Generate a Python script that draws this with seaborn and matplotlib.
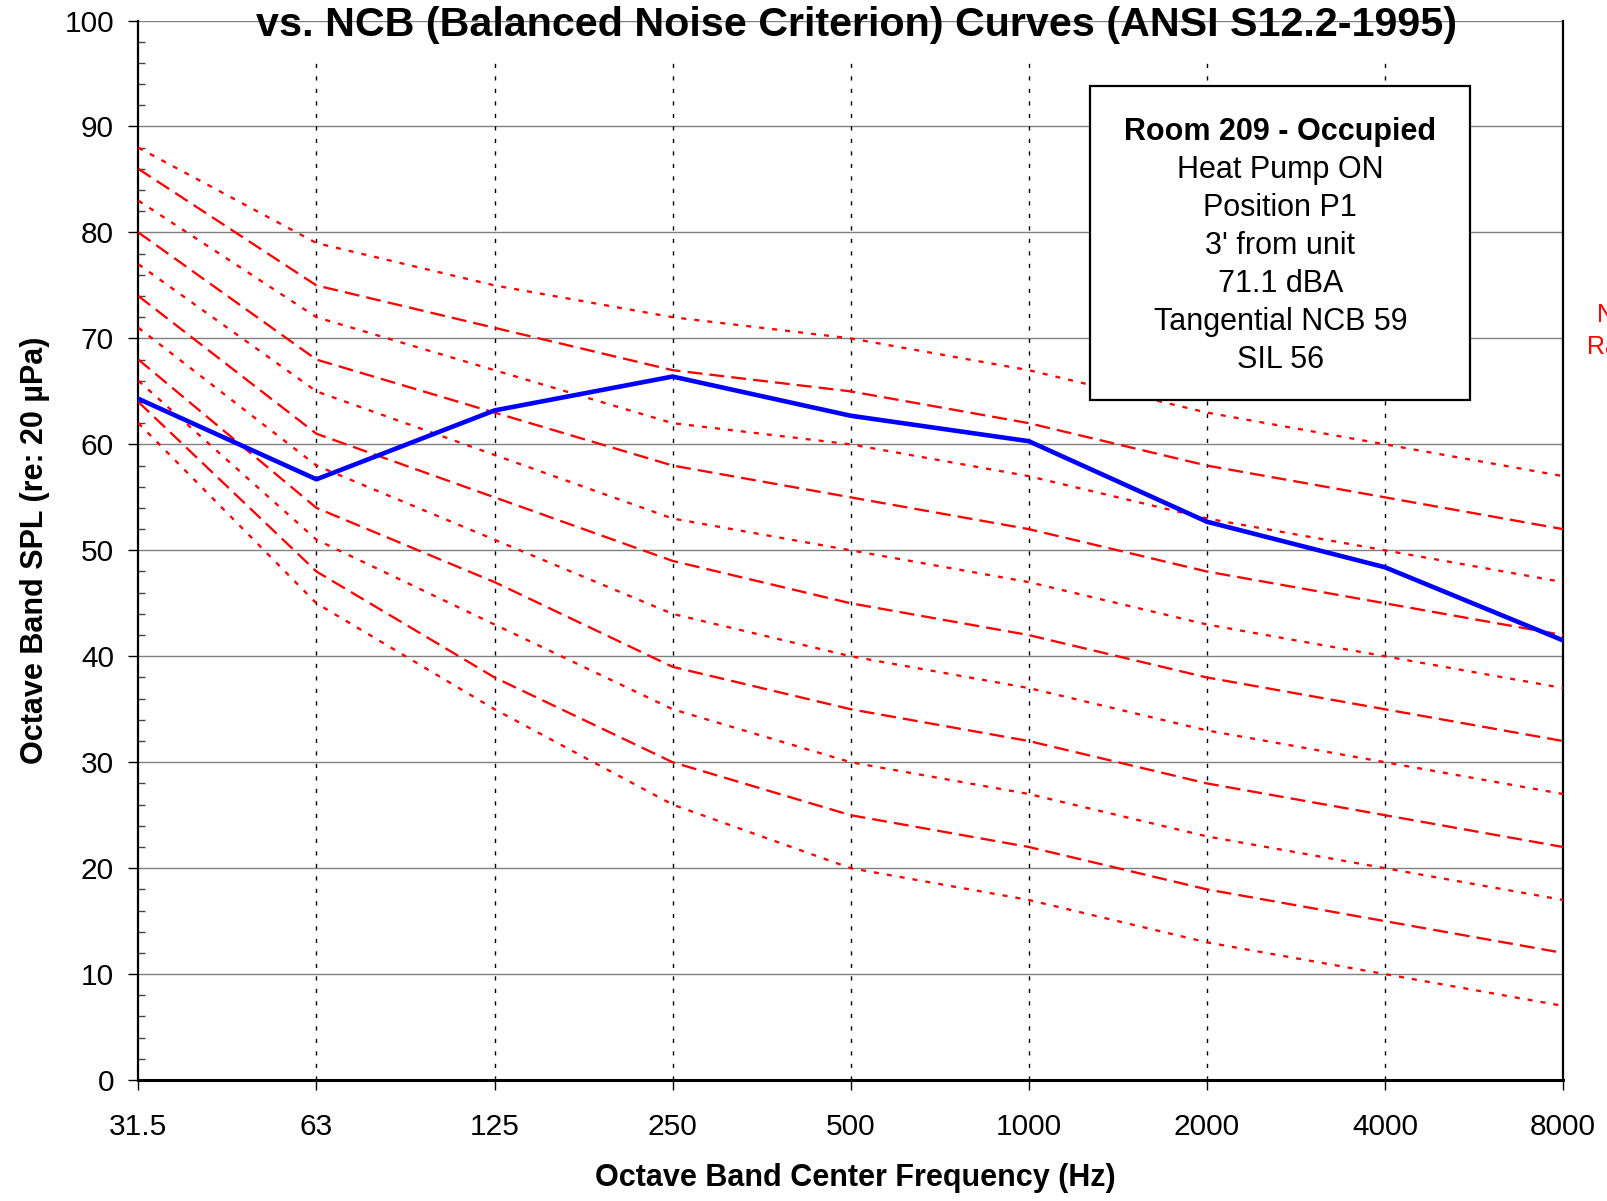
import numpy as np
import pandas as pd
import seaborn as sns
import matplotlib.pyplot as plt
from matplotlib.patches import Rectangle
from matplotlib.ticker import MultipleLocator

# octave band centres (plotted at equal spacing)
freq_labels = ["31.5", "63", "125", "250", "500", "1000", "2000", "4000", "8000"]

# NCB reference curves, highest first; values per band
ncb_ratings = [60, 55, 50, 45, 40, 35, 30, 25, 20, 15, 10]
ncb_31 = [88, 86, 83, 80, 77, 74, 71, 68, 66, 64, 62]
ncb_63 = [79, 75, 72, 68, 65, 61, 58, 54, 51, 48, 45]
ncb_125 = [75, 71, 67, 63, 59, 55, 51, 47, 43, 38, 35]
ncb_250 = [72, 67, 62, 58, 53, 49, 44, 39, 35, 30, 26]
ncb_500 = [70, 65, 60, 55, 50, 45, 40, 35, 30, 25, 20]
ncb_1k = [67, 62, 57, 52, 47, 42, 37, 32, 27, 22, 17]
ncb_2k = [63, 58, 53, 48, 43, 38, 33, 28, 23, 18, 13]
ncb_4k = [60, 55, 50, 45, 40, 35, 30, 25, 20, 15, 10]
ncb_8k = [57, 52, 47, 42, 37, 32, 27, 22, 17, 12, 7]

# measured spectrum, Room 209
measured = [64.3, 56.7, 63.2, 66.4, 62.7, 60.3, 52.7, 48.4, 41.5]

note_title = "Room 209 - Occupied"
note_lines = ["Heat Pump ON", "Position P1", "3' from unit", "71.1 dBA",
              "Tangential NCB 59", "SIL 56"]

# long-form table for seaborn
bands = [ncb_31, ncb_63, ncb_125, ncb_250, ncb_500, ncb_1k, ncb_2k, ncb_4k, ncb_8k]
rows = []
for i, rating in enumerate(ncb_ratings):
    kind = "dot" if i % 2 == 0 else "dash"
    for j, band in enumerate(bands):
        rows.append({"x": j, "SPL": band[i], "NCB": rating, "kind": kind})
ncb_df = pd.DataFrame(rows)
meas_df = pd.DataFrame({"x": np.arange(len(freq_labels)), "SPL": measured})

sns.set_style("white")
plt.rcParams['font.family'] = ['Liberation Sans', 'DejaVu Sans']
plt.rcParams['text.color'] = 'black'
plt.rcParams['axes.labelcolor'] = 'black'
plt.rcParams['xtick.color'] = 'black'
plt.rcParams['ytick.color'] = 'black'

fig = plt.figure(figsize=(16.07, 12.01), dpi=100)
ax = fig.add_axes([0.0861, 0.1007, 0.8865, 0.8822])

sns.lineplot(data=ncb_df, x="x", y="SPL", units="NCB", estimator=None,
             style="kind", dashes={"dot": (2.2, 3.5), "dash": (6.5, 3.1)},
             color="#ff0000", linewidth=1.65, legend=False, ax=ax, zorder=3)
sns.lineplot(data=meas_df, x="x", y="SPL", color="#0000ff", linewidth=3.3,
             legend=False, ax=ax, zorder=4)

ax.set_xlim(0, len(freq_labels) - 1)
ax.set_ylim(0, 100)
ax.set_xticks(range(len(freq_labels)))
ax.set_xticklabels(freq_labels)
ax.yaxis.set_major_locator(MultipleLocator(10))
ax.yaxis.set_minor_locator(MultipleLocator(2))

ax.grid(False)
ax.yaxis.grid(True, color="#808080", linewidth=1.0, zorder=1)
for j in range(1, len(freq_labels) - 1):
    ax.axvline(j, ymin=0, ymax=0.963, color="black", linewidth=1.0,
               linestyle=(0, (3, 6)), zorder=1)

for side in ["left", "right", "bottom"]:
    ax.spines[side].set_visible(True)
    ax.spines[side].set_color("black")
ax.spines["left"].set_linewidth(1.6)
ax.spines["right"].set_linewidth(1.6)
ax.spines["bottom"].set_linewidth(2.2)
ax.spines["top"].set_visible(False)

ax.tick_params(axis="both", which="major", direction="out", length=7, width=1,
               labelsize=21.5, colors="black")
ax.tick_params(axis="y", which="major", pad=10.5, left=True)
ax.tick_params(axis="x", which="major", pad=17, bottom=True)
ax.tick_params(axis="y", which="minor", direction="in", length=5, width=1,
               left=True, color="#444444")

ax.set_xlabel("Octave Band Center Frequency (Hz)", fontsize=22, fontweight="bold")
ax.set_ylabel("Octave Band SPL (re: 20 µPa)", fontsize=22, fontweight="bold")
ax.xaxis.set_label_coords(0.503, -0.078)
ax.yaxis.set_label_coords(-0.062, 0.5)

fig.text(0.533, 0.979, "vs. NCB (Balanced Noise Criterion) Curves (ANSI S12.2-1995)",
         ha="center", va="center", fontsize=29.7, fontweight="bold")

# info box
ax.add_patch(Rectangle((0.6683, 0.6418), 0.2664, 0.2964, transform=ax.transAxes,
                       facecolor="white", edgecolor="black", linewidth=1.6,
                       zorder=10, clip_on=False))
box_cx = 0.8016
ax.text(box_cx, 0.8947, note_title, transform=ax.transAxes, ha="center",
        va="center", fontsize=22, fontweight="bold", zorder=11)
for k, line in enumerate(note_lines):
    ax.text(box_cx, 0.8589 - k * 0.03588, line, transform=ax.transAxes,
            ha="center", va="center", fontsize=22, zorder=11)

# right-hand label, partly off the canvas as in the source
fig.text(1.010, 0.7377, "NCB", ha="center", va="center", fontsize=18, color="#ff0000")
fig.text(1.010, 0.7113, "Rating", ha="center", va="center", fontsize=18, color="#ff0000")

fig.savefig("out.png", dpi=100)
